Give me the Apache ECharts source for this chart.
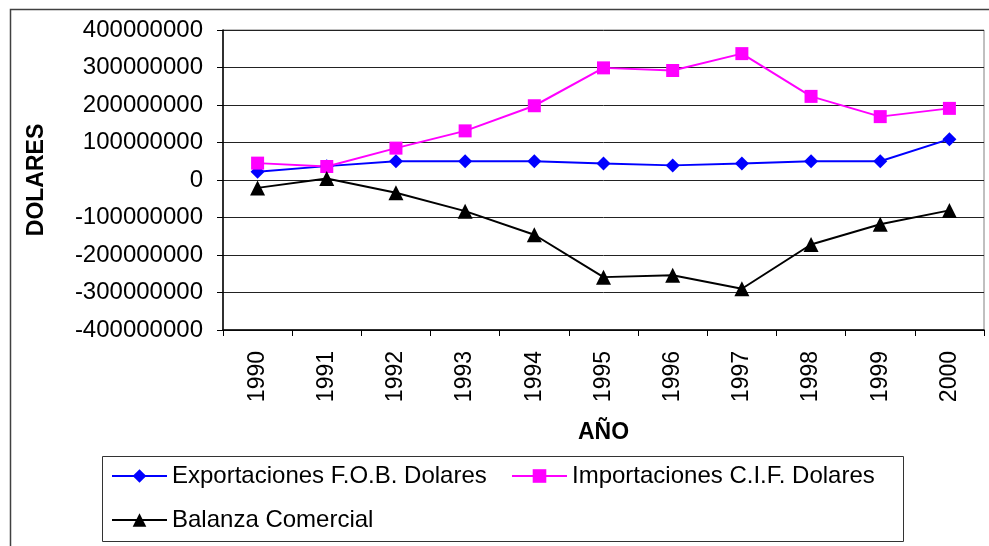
<!DOCTYPE html>
<html>
<head>
<meta charset="utf-8">
<title>Balanza Comercial</title>
<script src="https://cdn.jsdelivr.net/npm/echarts@6/dist/echarts.min.js"></script>
<style>
    html, body { margin: 0; padding: 0; background: #fff; }
    #main { width: 989px; height: 546px; }
</style>
</head>
<body>
<div id="main"></div>
<script>
var years = ['1990','1991','1992','1993','1994','1995','1996','1997','1998','1999','2000'];
var exportaciones = [22000000, 37000000, 50000000, 50000000, 50000000, 44000000, 39000000, 44000000, 50000000, 50000000, 109000000];
var importaciones = [45000000, 36000000, 85000000, 131000000, 198000000, 299000000, 292000000, 337000000, 223000000, 169000000, 191000000];
var balanza = [-21000000, 4000000, -34000000, -83000000, -146000000, -259000000, -254000000, -290000000, -172000000, -118000000, -81000000];
var yMin = -400000000, yMax = 400000000, yStep = 100000000;

var myChart = echarts.init(document.getElementById('main'));
var font = 'Arial, "Liberation Sans", sans-serif';

var option = {
    animation: false,
    backgroundColor: '#fff',
    textStyle: { fontFamily: font },
    //plot area
    grid: {
        left: 223,
        top: 30,
        right: 5,
        bottom: 216,
        show: true,
        borderColor: '#808080',
        borderWidth: 1
    },
    graphic: [
        //outer chart frame (cut off on the right and bottom)
        { type: 'rect', left: 8, top: 7, shape: { width: 1200, height: 800 }, style: { fill: null, stroke: '#404040', lineWidth: 1.5 }, silent: true },
        //legend box
        { type: 'rect', left: 102, top: 456, shape: { width: 801, height: 85 }, style: { fill: '#fff', stroke: '#333', lineWidth: 1 }, z: 0, silent: true }
    ],
    legend: [
        {
            data: ['Exportaciones F.O.B. Dolares'],
            left: 111, top: 464, padding: 0,
            itemWidth: 55, itemHeight: 17, itemGap: 6,
            textStyle: { fontSize: 24, color: '#000', fontFamily: font }
        },
        {
            data: ['Importaciones C.I.F. Dolares'],
            left: 511, top: 464, padding: 0,
            itemWidth: 55, itemHeight: 17,
            textStyle: { fontSize: 24, color: '#000', fontFamily: font }
        },
        {
            data: ['Balanza Comercial'],
            left: 111, top: 508, padding: 0,
            itemWidth: 55, itemHeight: 17,
            textStyle: { fontSize: 24, color: '#000', fontFamily: font }
        }
    ],
    xAxis: {
        type: 'category',
        data: years,
        boundaryGap: true,
        name: 'AÑO',
        nameLocation: 'middle',
        nameGap: 91,
        nameTextStyle: { fontSize: 23, fontWeight: 'bold', color: '#000', fontFamily: font },
        axisLine: { onZero: false, lineStyle: { color: '#000', width: 1.5 } },
        axisTick: { show: true, length: 6, alignWithLabel: false, lineStyle: { color: '#000' } },
        axisLabel: { rotate: 90, margin: 21, fontSize: 23, color: '#000', fontFamily: font, interval: 0 },
        splitLine: { show: false }
    },
    yAxis: {
        type: 'value',
        min: yMin,
        max: yMax,
        interval: yStep,
        name: 'DOLARES',
        nameLocation: 'middle',
        nameRotate: 90,
        nameGap: 175,
        nameTextStyle: { fontSize: 23, fontWeight: 'bold', color: '#000', fontFamily: font },
        axisLine: { show: true, lineStyle: { color: '#000', width: 1.5 } },
        axisTick: { show: true, length: 6, lineStyle: { color: '#000' } },
        axisLabel: {
            margin: 20, fontSize: 24, color: '#000', fontFamily: font,
            formatter: function (v) { return String(v); }
        },
        splitLine: { show: true, lineStyle: { color: '#222', width: 1 } }
    },
    series: [
        {
            name: 'Exportaciones F.O.B. Dolares',
            type: 'line',
            data: exportaciones,
            symbol: 'diamond',
            symbolSize: 14,
            lineStyle: { color: '#0000FF', width: 2 },
            itemStyle: { color: '#0000FF' }
        },
        {
            name: 'Importaciones C.I.F. Dolares',
            type: 'line',
            data: importaciones,
            symbol: 'rect',
            symbolSize: 13,
            lineStyle: { color: '#FF00FF', width: 2 },
            itemStyle: { color: '#FF00FF' }
        },
        {
            name: 'Balanza Comercial',
            type: 'line',
            data: balanza,
            symbol: 'triangle',
            symbolSize: 15,
            lineStyle: { color: '#000', width: 2 },
            itemStyle: { color: '#000' }
        }
    ]
};

myChart.setOption(option);
</script>
</body>
</html>
